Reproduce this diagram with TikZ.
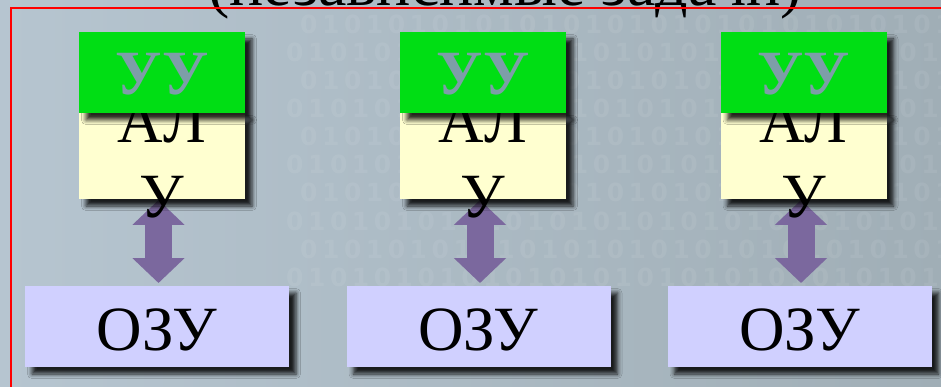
\documentclass[tikz,border=0pt]{standalone}
\usepackage{fontspec}
\setmainfont{Liberation Serif}
\newfontfamily\digitfont[LetterSpace=18]{DejaVu Sans}
\usetikzlibrary{shadows.blur,arrows.meta,calc}

\definecolor{bgleft}{RGB}{182,197,208}
\definecolor{bgright}{RGB}{160,174,182}
\definecolor{uugreen}{RGB}{0,222,20}
\definecolor{uutext}{RGB}{125,158,168}
\definecolor{aluyellow}{RGB}{255,255,208}
\definecolor{ramblue}{RGB}{208,208,255}
\definecolor{busviolet}{RGB}{123,104,158}

\begin{document}
\begin{tikzpicture}[x=1pt,y=-1pt,
  panel/.style={inner sep=0pt, outer sep=0pt,
    blur shadow={shadow xshift=7pt, shadow yshift=-7pt,
                 shadow blur radius=4.5pt, shadow opacity=85}},
  cubox/.style={panel, fill=uugreen, minimum width=166pt, minimum height=81pt},
  alubox/.style={panel, fill=aluyellow, minimum width=166pt, minimum height=86pt},
  rambox/.style={panel, fill=ramblue, minimum width=264pt, minimum height=81pt},
  big/.style={font=\fontsize{63}{75}\selectfont, inner sep=0pt, outer sep=0pt},
  cutext/.style={big, font=\fontsize{63}{75}\selectfont\bfseries, text=uutext},
  bits/.style={font=\digitfont\bfseries\fontsize{25}{28}\selectfont,
    text=white, text opacity=0.07, inner sep=0pt, anchor=base west},
  bus/.style={line width=27pt, draw=busviolet,
    {Triangle[width=51pt,length=25pt]}-{Triangle[width=51pt,length=25pt]}},
]
\useasboundingbox (0,0) rectangle (941,387);
\clip (0,0) rectangle (941,387);

% background with a faint binary texture
\shade[left color=bgleft, right color=bgright] (0,0) rectangle (941,387);
\foreach \r in {0,...,9}
  \node[bits] (bits\r) at ({300-14*mod(\r,2)}, {34+28*\r})
    {01010101010101010101010101010101};

% heading (partly above the frame)
\node[big, font=\fontsize{64}{76}\selectfont, anchor=base] (title) at (505,6)
  {(независимые задачи)};
\draw[red, line width=2pt] (11,8) rectangle (960,400);

% memory blocks
\node[rambox] (ram1) at (157,326.5) {};
\node[rambox] (ram2) at (478.5,326.5) {};
\node[rambox] (ram3) at (799.5,326.5) {};
\foreach \i in {1,2,3}
  \node[big, anchor=base] (ramlabel\i) at ($(ram\i.center)+(0,23.5)$) {ОЗУ};

% buses between ALU and memory
\foreach \i in {1,2,3}
  \draw[bus] ($(ram\i.north)+(1.5,-86)$) -- ($(ram\i.north)+(1.5,-3)$);

% ALU blocks
\node[alubox] (alu1) at (162,156) {};
\node[alubox] (alu2) at (483,156) {};
\node[alubox] (alu3) at (803.5,156) {};
\foreach \i in {1,2,3}
  \node[big, align=center, anchor=north] (alulabel\i)
    at ($(alu\i.center)+(0,-55)$) {АЛ\\У};

% control units
\node[cubox] (cu1) at (162,72.5) {};
\node[cubox] (cu2) at (483,72.5) {};
\node[cubox] (cu3) at (803.5,72.5) {};
\foreach \i in {1,2,3}
  \node[cutext, anchor=base] (culabel\i) at ($(cu\i.center)+(0,22)$) {УУ};
\end{tikzpicture}
\end{document}
